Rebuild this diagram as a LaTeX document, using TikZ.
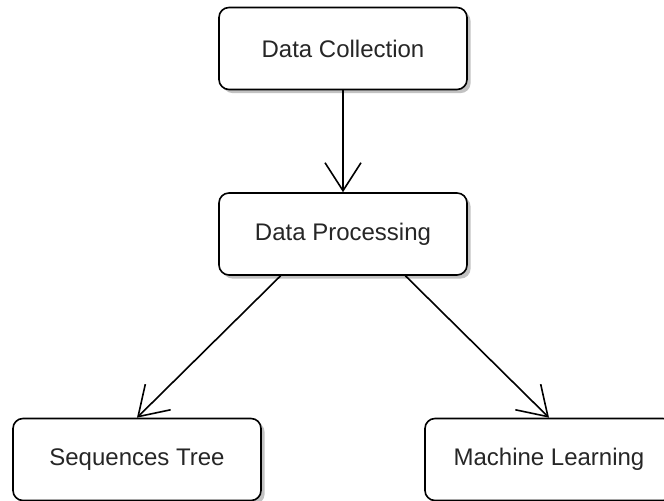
\documentclass[tikz,border=0pt]{standalone}
\usepackage{fontspec}
\setmainfont{Liberation Sans}
\usetikzlibrary{arrows.meta,shadows,calc}

\begin{document}
\begin{tikzpicture}[x=0.5pt, y=-0.5pt,
	stage/.style={draw=black, line width=0.8pt, fill=white, rounded corners=5pt,
		minimum width=124pt, minimum height=41pt, font=\fontsize{12}{14}\selectfont,
		text=black!85, drop shadow={shadow xshift=1.8pt, shadow yshift=-1.8pt, fill=black!40, opacity=0.6}},
	flow/.style={line width=0.8pt, -{Straight Barb[length=14pt, width=18pt, line width=0.8pt]}}]

	\useasboundingbox (0,0) rectangle (664,501);

	\node[stage] (collect) at (343,48.5) {Data Collection};
	\node[stage] (process) at (343,234) {Data Processing};
	\node[stage] (seqtree) at (137,459.5) {Sequences Tree};
	\node[stage] (mlearn) at (549,459.5) {Machine Learning};

	\draw[flow] (collect.south) -- (process.north);
	\draw[flow] ($(process.south west)!0.25!(process.south east)$) -- (seqtree.north);
	\draw[flow] ($(process.south west)!0.75!(process.south east)$) -- (mlearn.north);

\end{tikzpicture}
\end{document}
